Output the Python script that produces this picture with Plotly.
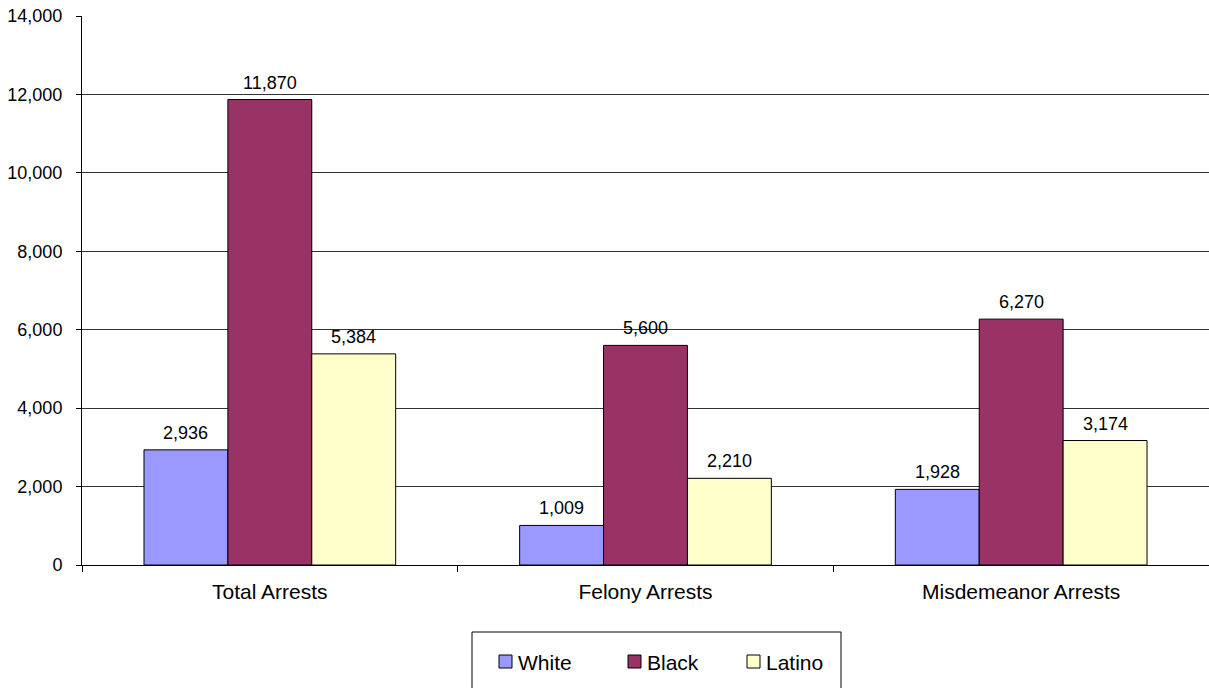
import plotly.graph_objects as go

# Arrest counts by race and arrest type
categories = ["Total Arrests", "Felony Arrests", "Misdemeanor Arrests"]
series_names = ["White", "Black", "Latino"]
white = [2936, 1009, 1928]
black = [11870, 5600, 6270]
latino = [5384, 2210, 3174]
colors = ["#9999FF", "#993366", "#FFFFCC"]
y_ticks = [0, 2000, 4000, 6000, 8000, 10000, 12000, 14000]

W, H = 1209, 688
M_L, M_R, M_T, M_B = 82, 0, 16, 123
PLOT_W = W - M_L - M_R
PLOT_H = H - M_T - M_B
FONT = "Liberation Sans, Arial, sans-serif"
BARGAP = 0.33


def px_x(px):
    return (px - M_L) / PLOT_W


def px_y(py):
    return (H - M_B - py) / PLOT_H


fig = go.Figure()
values = [white, black, latino]
for name, vals, col in zip(series_names, values, colors):
    fig.add_trace(go.Bar(
        x=categories, y=vals, name=name,
        marker=dict(color=col, line=dict(color="#000000", width=1)),
        showlegend=False,
    ))

# Value labels above each bar
cat_px = PLOT_W / len(categories)
bar_px = cat_px * (1 - BARGAP) / len(series_names)
annotations = []
for k, vals in enumerate(values):
    shift = (k - (len(series_names) - 1) / 2) * bar_px
    for cat, v in zip(categories, vals):
        annotations.append(dict(
            x=cat, y=v, xref="x", yref="y", text=f"{v:,}",
            showarrow=False, xshift=shift, yshift=5, yanchor="bottom",
            font=dict(family=FONT, size=18, color="#000000"),
        ))

# Legend drawn as a boxed row of swatches and labels
shapes = [dict(
    type="rect", xref="paper", yref="paper",
    x0=px_x(472), x1=px_x(841), y0=px_y(692), y1=px_y(632),
    line=dict(color="#000000", width=1), fillcolor="#FFFFFF", layer="above",
)]
legend_x = [499, 628, 747]
for lx, name, col in zip(legend_x, series_names, colors):
    shapes.append(dict(
        type="rect", xref="paper", yref="paper",
        x0=px_x(lx), x1=px_x(lx + 13), y0=px_y(668), y1=px_y(655),
        line=dict(color="#000000", width=1), fillcolor=col, layer="above",
    ))
    annotations.append(dict(
        x=px_x(lx + 17), y=px_y(662), xref="paper", yref="paper",
        text=name, showarrow=False, xanchor="left", yanchor="middle",
        font=dict(family=FONT, size=21, color="#000000"),
    ))

fig.update_layout(
    width=W, height=H,
    margin=dict(l=M_L, r=M_R, t=M_T, b=M_B, pad=0),
    paper_bgcolor="#FFFFFF", plot_bgcolor="#FFFFFF",
    barmode="group", bargap=BARGAP, bargroupgap=0,
    font=dict(family=FONT, color="#000000"),
    shapes=shapes, annotations=annotations,
)
fig.update_xaxes(
    showline=True, linecolor="#000000", linewidth=1,
    ticks="outside", tickson="boundaries", ticklen=6, tickcolor="#000000",
    showgrid=False, tickfont=dict(size=21), ticklabelstandoff=8,
)
fig.update_yaxes(
    range=[0, 14000], tickvals=y_ticks, ticktext=[f"{t:,}" for t in y_ticks],
    showline=True, linecolor="#000000", linewidth=1,
    ticks="outside", ticklen=5, tickcolor="#000000",
    showgrid=True, gridcolor="#333333", gridwidth=1,
    zeroline=False, tickfont=dict(size=18), ticklabelstandoff=10,
)

fig.write_html("out.html")
